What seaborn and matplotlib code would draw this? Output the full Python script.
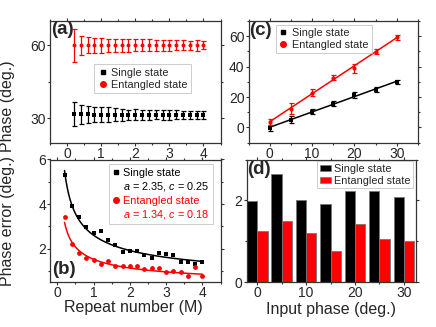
import numpy as np
import pandas as pd
import matplotlib
matplotlib.use("Agg")
import matplotlib.pyplot as plt
import seaborn as sns
from matplotlib.ticker import MultipleLocator
from matplotlib.lines import Line2D
from matplotlib.patches import Rectangle

# ---------------- data ----------------
repeat_m = [0.2, 0.4, 0.6, 0.8, 1.0, 1.2, 1.4, 1.6, 1.8, 2.0,
            2.2, 2.4, 2.6, 2.8, 3.0, 3.2, 3.4, 3.6, 3.8, 4.0]

# (a) measured phase with error bars
a_single_phase = [31.8, 31.6, 31.6, 31.5, 31.5, 31.5, 31.5, 31.5, 31.4, 31.5,
                  31.5, 31.4, 31.5, 31.5, 31.4, 31.5, 31.4, 31.4, 31.4, 31.5]
a_single_err = [5.1, 4.0, 3.5, 3.1, 3.0, 3.0, 2.7, 2.4, 2.1, 2.2,
                2.1, 2.0, 1.9, 2.0, 2.0, 1.9, 1.7, 1.7, 1.6, 1.7]
a_ent_phase = [60.0, 60.0, 60.0, 60.0, 60.0, 60.0, 60.0, 60.0, 60.0, 60.0,
               60.0, 60.0, 60.0, 60.0, 60.0, 60.0, 60.0, 60.0, 60.0, 60.0]
a_ent_err = [6.7, 3.9, 3.3, 3.2, 3.0, 2.8, 2.8, 2.6, 2.6, 2.5,
             2.5, 2.4, 2.3, 2.2, 2.2, 2.1, 2.0, 1.8, 2.2, 1.7]

# (b) phase error vs repeat number
b_single = [5.32, 3.93, 3.41, 2.99, 2.70, 2.77, 2.40, 2.18, 1.85, 1.91,
            1.87, 1.73, 1.57, 1.78, 1.75, 1.69, 1.41, 1.42, 1.32, 1.39]
b_ent = [3.41, 2.19, 1.78, 1.60, 1.50, 1.33, 1.44, 1.24, 1.24, 1.20,
         1.20, 1.07, 1.14, 1.11, 0.93, 0.99, 0.96, 0.79, 1.17, 0.76]
fit_single_a, fit_single_c = 2.35, 0.25
fit_ent_a, fit_ent_c = 1.34, 0.18

# (c) measured vs input phase
input_phase = [0, 5, 10, 15, 20, 25, 30]
c_single = [-0.5, 5.2, 10.5, 15.7, 21.2, 24.9, 29.9]
c_single_err = [2.0, 2.5, 1.5, 1.5, 2.0, 1.5, 1.5]
c_ent = [3.7, 12.4, 22.9, 32.7, 38.9, 49.8, 59.4]
c_ent_err = [2.0, 3.5, 2.5, 1.5, 3.0, 1.7, 1.7]

# (d) phase error vs input phase
d_single = [1.99, 2.65, 2.02, 1.92, 2.22, 2.23, 2.08]
d_ent = [1.26, 1.49, 1.21, 0.76, 1.42, 1.05, 1.00]

labels = ["Single state", "Entangled state"]
colors = ["black", "#ff0000"]

# ---------------- style ----------------
sns.set_theme(style="ticks")
plt.rcParams['font.family'] = ['Liberation Sans', 'DejaVu Sans']
plt.rcParams['mathtext.fontset'] = 'custom'
plt.rcParams['mathtext.it'] = 'Liberation Sans:italic'
plt.rcParams['mathtext.rm'] = 'Liberation Sans'
plt.rcParams['axes.linewidth'] = 0.9
plt.rcParams['axes.edgecolor'] = '#333333'

W, H = 436, 327
fig = plt.figure(figsize=(W / 100, H / 100), dpi=100)


def add_ax(x0, x1, y0, y1):
    return fig.add_axes([x0 / W, 1 - y1 / H, (x1 - x0) / W, (y1 - y0) / H])


ax_a = add_ax(50, 220.5, 21, 142.7)
ax_b = add_ax(50, 220.5, 159.5, 282)
ax_c = add_ax(248.5, 418, 21, 142.7)
ax_d = add_ax(246.5, 416, 159.5, 282)


def style(ax, xmaj, xmin, ymaj, ymin):
    ax.xaxis.set_major_locator(MultipleLocator(xmaj))
    ax.xaxis.set_minor_locator(MultipleLocator(xmin))
    ax.yaxis.set_major_locator(MultipleLocator(ymaj))
    ax.yaxis.set_minor_locator(MultipleLocator(ymin))
    ax.tick_params(which='both', direction='out', top=True, right=True,
                   labelsize=10, pad=0.8, width=0.8, color='#333333')
    ax.tick_params(which='major', length=2)
    ax.tick_params(which='minor', length=1.2)
    for s in ax.spines.values():
        s.set_visible(True)


def leg_style(leg):
    fr = leg.get_frame()
    fr.set_edgecolor('#c0c0c0')
    fr.set_linewidth(0.7)
    fr.set_boxstyle('square', pad=0)


handles_pts = [Line2D([], [], marker='s', color='black', ls='none', ms=3.2),
               Line2D([], [], marker='o', color='#ff0000', ls='none', ms=4)]

# ---------------- (a) ----------------
for y, e, col, mk in [(a_single_phase, a_single_err, colors[0], 's'),
                      (a_ent_phase, a_ent_err, colors[1], 'o')]:
    ax_a.errorbar(repeat_m, y, yerr=e, fmt='none', ecolor=col, elinewidth=0.9,
                  capsize=1.8, capthick=0.9, zorder=2)
    sns.scatterplot(x=repeat_m, y=y, marker=mk, color=col, s=8, linewidth=0,
                    ax=ax_a, zorder=3)
ax_a.set_xlim(-0.5, 4.5)
ax_a.set_ylim(20, 70)
style(ax_a, 1, 0.5, 30, 15)
ax_a.set_ylabel("Phase (deg.)", fontsize=11.5)
ax_a.yaxis.set_label_coords(-0.205, 0.30)
leg = ax_a.legend(handles_pts, labels, loc='center', bbox_to_anchor=(0.545, 0.525),
                  fontsize=7.8, frameon=True, fancybox=False, handlelength=0.8,
                  handletextpad=0.4, labelspacing=0.15, borderpad=0.35,
                  borderaxespad=0)
leg_style(leg)
ax_a.text(0.005, 1.0, "(a)", transform=ax_a.transAxes, ha='left', va='top',
          fontsize=13.5, fontweight='bold')

# ---------------- (b) ----------------
m_dense = np.linspace(min(repeat_m), max(repeat_m), 200)
sns.lineplot(x=m_dense, y=fit_single_a / np.sqrt(m_dense) + fit_single_c,
             color=colors[0], lw=1.1, ax=ax_b)
sns.lineplot(x=m_dense, y=fit_ent_a / np.sqrt(m_dense) + fit_ent_c,
             color=colors[1], lw=1.1, ax=ax_b)
sns.scatterplot(x=repeat_m, y=b_single, marker='s', color=colors[0], s=10,
                linewidth=0, ax=ax_b, zorder=3)
sns.scatterplot(x=repeat_m, y=b_ent, marker='o', color=colors[1], s=12,
                linewidth=0, ax=ax_b, zorder=3)
ax_b.set_xlim(-0.2, 4.5)
ax_b.set_ylim(0.5, 6)
style(ax_b, 1, 0.5, 2, 1)
ax_b.set_ylabel("Phase error (deg.)", fontsize=11.5)
ax_b.yaxis.set_label_coords(-0.205, 0.5)
ax_b.set_xlabel("Repeat number (M)", fontsize=11.5)
ax_b.xaxis.set_label_coords(0.49, -0.205)
ax_b.xaxis.label.set_va('center')
blank = Line2D([], [], ls='none')
b_labels = ["Single state",
            f"$a$ = {fit_single_a:.2f}, $c$ = {fit_single_c:.2f}",
            "Entangled state",
            f"$a$ = {fit_ent_a:.2f}, $c$ = {fit_ent_c:.2f}"]
leg = ax_b.legend([handles_pts[0], blank, handles_pts[1], blank], b_labels,
                  loc='upper right', bbox_to_anchor=(0.955, 0.96), fontsize=7.8,
                  frameon=True, fancybox=False, handlelength=0.6,
                  handletextpad=0.3, labelspacing=0.2, borderpad=0.35,
                  borderaxespad=0)
leg_style(leg)
for t, col in zip(leg.get_texts(), [colors[0], colors[0], colors[1], colors[1]]):
    t.set_color(col)
ax_b.text(0.015, 0.035, "(b)", transform=ax_b.transAxes, ha='left', va='bottom',
          fontsize=13.5, fontweight='bold')

# ---------------- (c) ----------------
for y, e, col, mk in [(c_single, c_single_err, colors[0], 's'),
                      (c_ent, c_ent_err, colors[1], 'o')]:
    sns.regplot(x=input_phase, y=y, scatter=False, ci=None, truncate=True,
                color=col, line_kws={'lw': 1.1}, ax=ax_c)
    ax_c.errorbar(input_phase, y, yerr=e, fmt='none', ecolor=col, elinewidth=0.9,
                  capsize=1.8, capthick=0.9, zorder=2)
    sns.scatterplot(x=input_phase, y=y, marker=mk, color=col, s=9, linewidth=0,
                    ax=ax_c, zorder=3)
ax_c.set_xlim(-5, 35)
ax_c.set_ylim(-10, 70)
style(ax_c, 10, 5, 20, 10)
ax_c.set_xlabel("")
ax_c.set_ylabel("")
leg = ax_c.legend(handles_pts, labels, loc='upper left', bbox_to_anchor=(0.16, 0.97),
                  fontsize=7.8, frameon=True, fancybox=False, handlelength=0.8,
                  handletextpad=0.4, labelspacing=0.15, borderpad=0.3,
                  borderaxespad=0)
leg_style(leg)
ax_c.text(0.005, 0.995, "(c)", transform=ax_c.transAxes, ha='left', va='top',
          fontsize=13.5, fontweight='bold')

# ---------------- (d) ----------------
df_d = pd.DataFrame({
    'phase': input_phase * 2,
    'err': d_single + d_ent,
    'state': [labels[0]] * len(input_phase) + [labels[1]] * len(input_phase),
})
sns.barplot(data=df_d, x='phase', y='err', hue='state', native_scale=True,
            palette=colors, saturation=1, width=0.84, errorbar=None,
            edgecolor='#777777', linewidth=0.6, ax=ax_d, legend=False)
ax_d.set_xlim(-2.2, 32.5)
ax_d.set_ylim(0, 3)
style(ax_d, 10, 5, 2, 1)
ax_d.set_ylabel("")
ax_d.set_xlabel("Input phase (deg.)", fontsize=11.5)
ax_d.xaxis.set_label_coords(0.496, -0.225)
ax_d.xaxis.label.set_va('center')
bar_handles = [Rectangle((0, 0), 1, 1, facecolor=c, edgecolor='#777777', lw=0.5)
               for c in colors]
leg = ax_d.legend(bar_handles, labels, loc='upper right', bbox_to_anchor=(0.985, 0.985),
                  fontsize=7.8, frameon=True, fancybox=False, handlelength=1.0,
                  handleheight=0.45, handletextpad=0.3, labelspacing=0.15,
                  borderpad=0.25, borderaxespad=0)
leg_style(leg)
ax_d.text(0.005, 0.99, "(d)", transform=ax_d.transAxes, ha='left', va='top',
          fontsize=13.5, fontweight='bold')

fig.savefig("out.png", dpi=100)
